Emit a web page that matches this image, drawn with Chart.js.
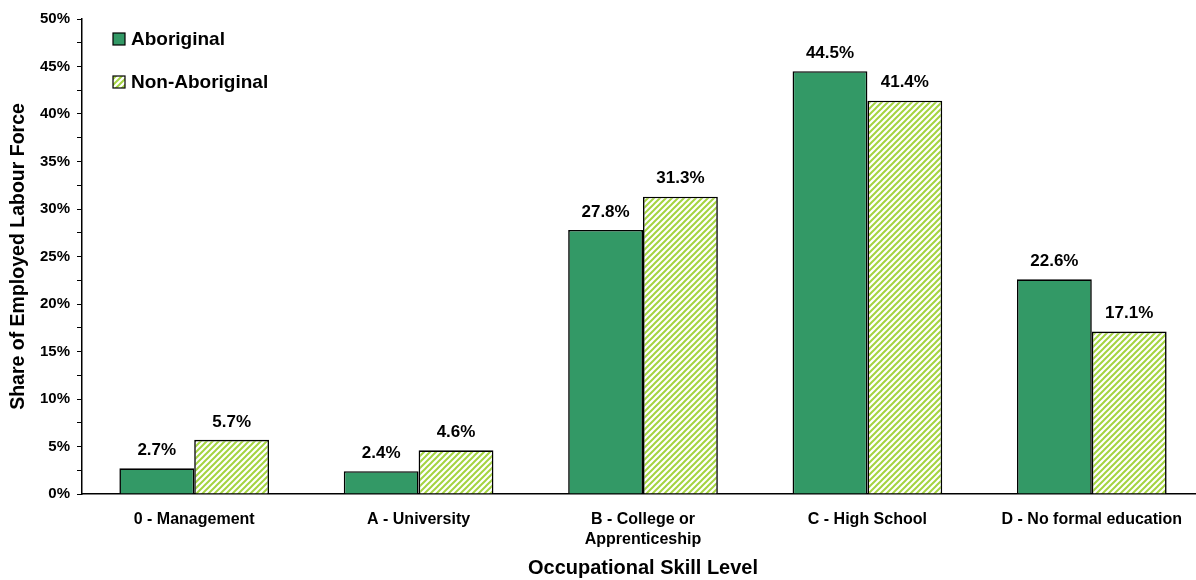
<!DOCTYPE html>
<html>
<head>
<meta charset="utf-8">
<script src="https://cdn.jsdelivr.net/npm/chart.js@4"></script>
<style>
  html, body { margin: 0; padding: 0; background: #fff; overflow: hidden; }
  canvas { display: block; }
</style>
</head>
<body>
<canvas id="chart" width="1204" height="580"></canvas>
<script>
// Occupational skill levels (x categories)
const categories = [
  '0 - Management',
  'A - University',
  ['B - College or', 'Apprenticeship'],
  'C - High School',
  'D - No formal education'
];
// Share of employed labour force, percent
const aboriginal = [2.7, 2.4, 27.8, 44.5, 22.6];
const nonAboriginal = [5.7, 4.6, 31.3, 41.4, 17.1];
const seriesNames = ['Aboriginal', 'Non-Aboriginal'];
const yTicks = [0, 5, 10, 15, 20, 25, 30, 35, 40, 45, 50];

const FONT = "'Liberation Sans', Arial, Helvetica, sans-serif";

// Diagonal light-green hatch fill
function makeHatch() {
  const s = 6;
  const c = document.createElement('canvas');
  c.width = s; c.height = s;
  const g = c.getContext('2d');
  g.fillStyle = '#ffffff';
  g.fillRect(0, 0, s, s);
  g.strokeStyle = '#a4d441';
  g.lineWidth = 2;
  g.beginPath();
  g.moveTo(-1, s + 1); g.lineTo(s + 1, -1);
  g.moveTo(-1, 1); g.lineTo(1, -1);
  g.moveTo(s - 1, s + 1); g.lineTo(s + 1, s - 1);
  g.stroke();
  return g.createPattern(c, 'repeat');
}
const hatch = makeHatch();

// Value labels above each bar
const valueLabels = {
  id: 'valueLabels',
  afterDatasetsDraw(chart) {
    const ctx = chart.ctx;
    ctx.save();
    ctx.font = 'bold 17px ' + FONT;
    ctx.fillStyle = '#000';
    ctx.textAlign = 'center';
    ctx.textBaseline = 'middle';
    chart.data.datasets.forEach((ds, i) => {
      chart.getDatasetMeta(i).data.forEach((bar, j) => {
        ctx.fillText(ds.data[j].toFixed(1) + '%', bar.x, bar.y - 18);
      });
    });
    ctx.restore();
  }
};

// Legend drawn inside the plot, upper left
const insideLegend = {
  id: 'insideLegend',
  afterDraw(chart) {
    const ctx = chart.ctx;
    ctx.save();
    ctx.font = 'bold 19px ' + FONT;
    ctx.textBaseline = 'middle';
    ctx.textAlign = 'left';
    const rows = [39, 82];
    chart.data.datasets.forEach((ds, i) => {
      const y = rows[i];
      ctx.fillStyle = ds.backgroundColor;
      ctx.fillRect(113, y - 6, 12, 12);
      ctx.strokeStyle = '#000';
      ctx.lineWidth = 1.2;
      ctx.strokeRect(113, y - 6, 12, 12);
      ctx.fillStyle = '#000';
      ctx.fillText(ds.label, 131, y + 1);
    });
    ctx.restore();
  }
};

new Chart(document.getElementById('chart'), {
  type: 'bar',
  data: {
    labels: categories,
    datasets: [
      {
        label: seriesNames[0],
        data: aboriginal,
        backgroundColor: '#339966',
        borderColor: '#000',
        borderWidth: 1.6,
        borderSkipped: 'bottom'
      },
      {
        label: seriesNames[1],
        data: nonAboriginal,
        backgroundColor: hatch,
        borderColor: '#000',
        borderWidth: 1.6,
        borderSkipped: 'bottom'
      }
    ]
  },
  options: {
    responsive: false,
    animation: false,
    devicePixelRatio: 1,
    layout: { padding: { top: 19, right: 0, bottom: 0, left: 0 } },
    datasets: { bar: { categoryPercentage: 0.667, barPercentage: 1.0 } },
    plugins: {
      legend: { display: false },
      tooltip: { enabled: false }
    },
    scales: {
      x: {
        grid: { display: false, drawTicks: false },
        border: { display: true, color: '#000', width: 1.5 },
        ticks: {
          color: '#000',
          font: { family: FONT, size: 16, weight: 'bold', lineHeight: 1.25 },
          padding: 16,
          maxRotation: 0,
          autoSkip: false
        },
        title: {
          display: true,
          text: 'Occupational Skill Level',
          color: '#000',
          font: { family: FONT, size: 20, weight: 'bold', lineHeight: 1 },
          padding: { top: 0, bottom: 2 }
        },
        afterFit(scale) { scale.height = 86; }
      },
      y: {
        min: 0,
        max: 50,
        grid: {
          drawOnChartArea: false,
          drawTicks: true,
          tickLength: 5,
          color: '#000',
          lineWidth: 1
        },
        border: { display: true, color: '#000', width: 1.5 },
        ticks: {
          stepSize: 2.5,
          autoSkip: false,
          color: '#000',
          padding: 7,
          font: { family: FONT, size: 15, weight: 'bold' },
          callback: (v) => yTicks.includes(v) ? v + '%' : ''
        },
        title: {
          display: true,
          text: 'Share of Employed Labour Force',
          color: '#000',
          font: { family: FONT, size: 19.5, weight: 'bold', lineHeight: 1 },
          padding: { top: 9, bottom: 0 }
        },
        afterFit(scale) { scale.width = 82; }
      }
    }
  },
  plugins: [valueLabels, insideLegend]
});
</script>
</body>
</html>
